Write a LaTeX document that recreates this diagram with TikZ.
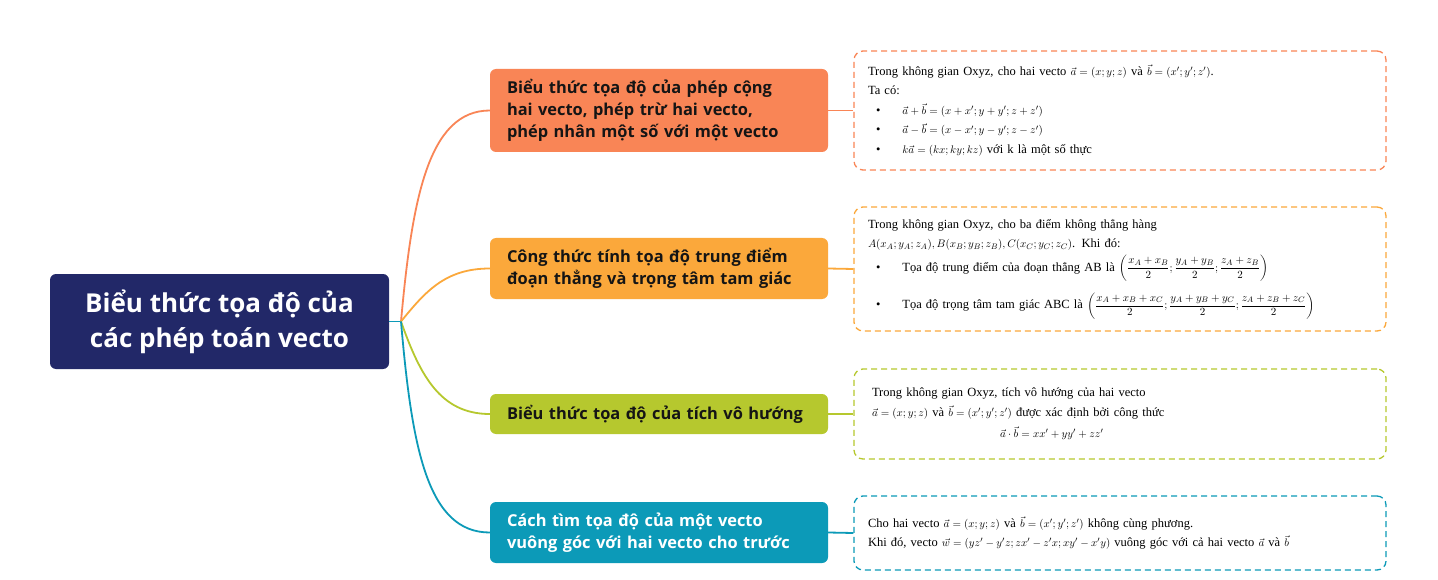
\documentclass[tikz,border=0pt]{standalone}
\usepackage{amsmath}
\usepackage{fontspec}
\setmainfont{Liberation Serif}
\newfontfamily\brfont{Open Sans}
\definecolor{rootc}{HTML}{222868}
\definecolor{cA}{HTML}{F98556}
\definecolor{cB}{HTML}{FBA83B}
\definecolor{cC}{HTML}{B6C82E}
\definecolor{cD}{HTML}{0C9AB8}
\definecolor{txt}{HTML}{151515}
\newcommand{\mm}[1]{{\fontsize{11}{13}\selectfont$#1$}}
\newcommand{\bul}{\hspace*{8pt}\textbullet\hspace{22pt}}
\begin{document}
\begin{tikzpicture}[x=1pt,y=-1pt,
  rootbox/.style={fill=rootc,rounded corners=6pt,minimum width=339pt,minimum height=95pt,text=white,font=\brfont\bfseries\fontsize{26}{35}\selectfont,align=center,inner sep=0pt},
  brbox/.style={rounded corners=6pt,minimum width=338pt,text width=304pt,inner xsep=17pt,inner ysep=0pt,align=left,text=txt,font=\brfont\bfseries\fontsize{16.4}{22}\selectfont},
  detbox/.style={draw,dashed,line width=1.3pt,dash pattern=on 6pt off 4pt,rounded corners=9pt,text width=504pt,inner xsep=14pt,inner ysep=0pt,align=left,text=black,font=\fontsize{12.5}{19.5}\selectfont},
  link/.style={line width=1.8pt}]
\fill[white] (0,0) rectangle (1438,580);
\useasboundingbox (0,0) rectangle (1438,580);
\node[rootbox] (root) at (219.5,321.5) {Biểu thức tọa độ của\\các phép toán vecto};
\coordinate (J) at (401,321.5);
\node[brbox,fill=cA,minimum height=83pt] (b1) at (659,110.5) {Biểu thức tọa độ của phép cộng\\hai vecto, phép trừ hai vecto,\\phép nhân một số với một vecto};
\node[brbox,fill=cB,minimum height=61pt] (b2) at (659,268.5) {Công thức tính tọa độ trung điểm\\đoạn thẳng và trọng tâm tam giác};
\node[brbox,fill=cC,minimum height=40pt] (b3) at (659,414) {Biểu thức tọa độ của tích vô hướng};
\node[brbox,fill=cD,minimum height=61pt,text=white] (b4) at (659,532.5) {Cách tìm tọa độ của một vecto\\vuông góc với hai vecto cho trước};
\node[detbox,draw=cA,minimum height=119pt] (d1) at (1120,110.5) {Trong không gian Oxyz, cho hai vecto \mm{\vec a=(x;y;z)} và \mm{\vec b=(x';y';z')}.\\
Ta có:\\
\bul\mm{\vec a+\vec b=(x+x';y+y';z+z')}\\
\bul\mm{\vec a-\vec b=(x-x';y-y';z-z')}\\
\bul\mm{k\vec a=(kx;ky;kz)} với k là một số thực};
\node[detbox,draw=cB,minimum height=124pt] (d2) at (1120,269) {Trong không gian Oxyz, cho ba điểm không thẳng hàng\\
\mm{A(x_A;y_A;z_A),B(x_B;y_B;z_B),C(x_C;y_C;z_C)}. Khi đó:\\[4pt]
\bul Tọa độ trung điểm của đoạn thẳng AB là \mm{\left(\dfrac{x_A+x_B}{2};\dfrac{y_A+y_B}{2};\dfrac{z_A+z_B}{2}\right)}\\[10pt]
\bul Tọa độ trọng tâm tam giác ABC là \mm{\left(\dfrac{x_A+x_B+x_C}{2};\dfrac{y_A+y_B+y_C}{2};\dfrac{z_A+z_B+z_C}{2}\right)}};
\node[detbox,draw=cC,minimum height=90pt] (d3) at (1120,414) {\hspace*{4pt}Trong không gian Oxyz, tích vô hướng của hai vecto\\
\hspace*{4pt}\mm{\vec a=(x;y;z)} và \mm{\vec b=(x';y';z')} được xác định bởi công thức\\[2pt]
\hspace*{132pt}\mm{\vec a\cdot\vec b=xx'+yy'+zz'}};
\node[detbox,draw=cD,minimum height=74pt] (d4) at (1120,533) {Cho hai vecto \mm{\vec a=(x;y;z)} và \mm{\vec b=(x';y';z')} không cùng phương.\\
Khi đó, vecto \mm{\vec w=(yz'-y'z;zx'-z'x;xy'-x'y)} vuông góc với cả hai vecto \mm{\vec a} và \mm{\vec b}};
\draw[link,cD] (root.east) -- (J);
\draw[link,cA] (J) .. controls (412,200) and (428,110.5) .. (b1.west);
\draw[link,cB] (J) .. controls (425,292) and (445,268.5) .. (b2.west);
\draw[link,cC] (J) .. controls (420,375) and (440,414) .. (b3.west);
\draw[link,cD] (J) .. controls (412,450) and (428,532.5) .. (b4.west);
\draw[link,cA] (b1.east) -- (d1.west);
\draw[link,cB] (b2.east) -- (d2.west);
\draw[link,cC] (b3.east) -- (d3.west);
\draw[link,cD] (b4.east) -- (d4.west);
\end{tikzpicture}
\end{document}
